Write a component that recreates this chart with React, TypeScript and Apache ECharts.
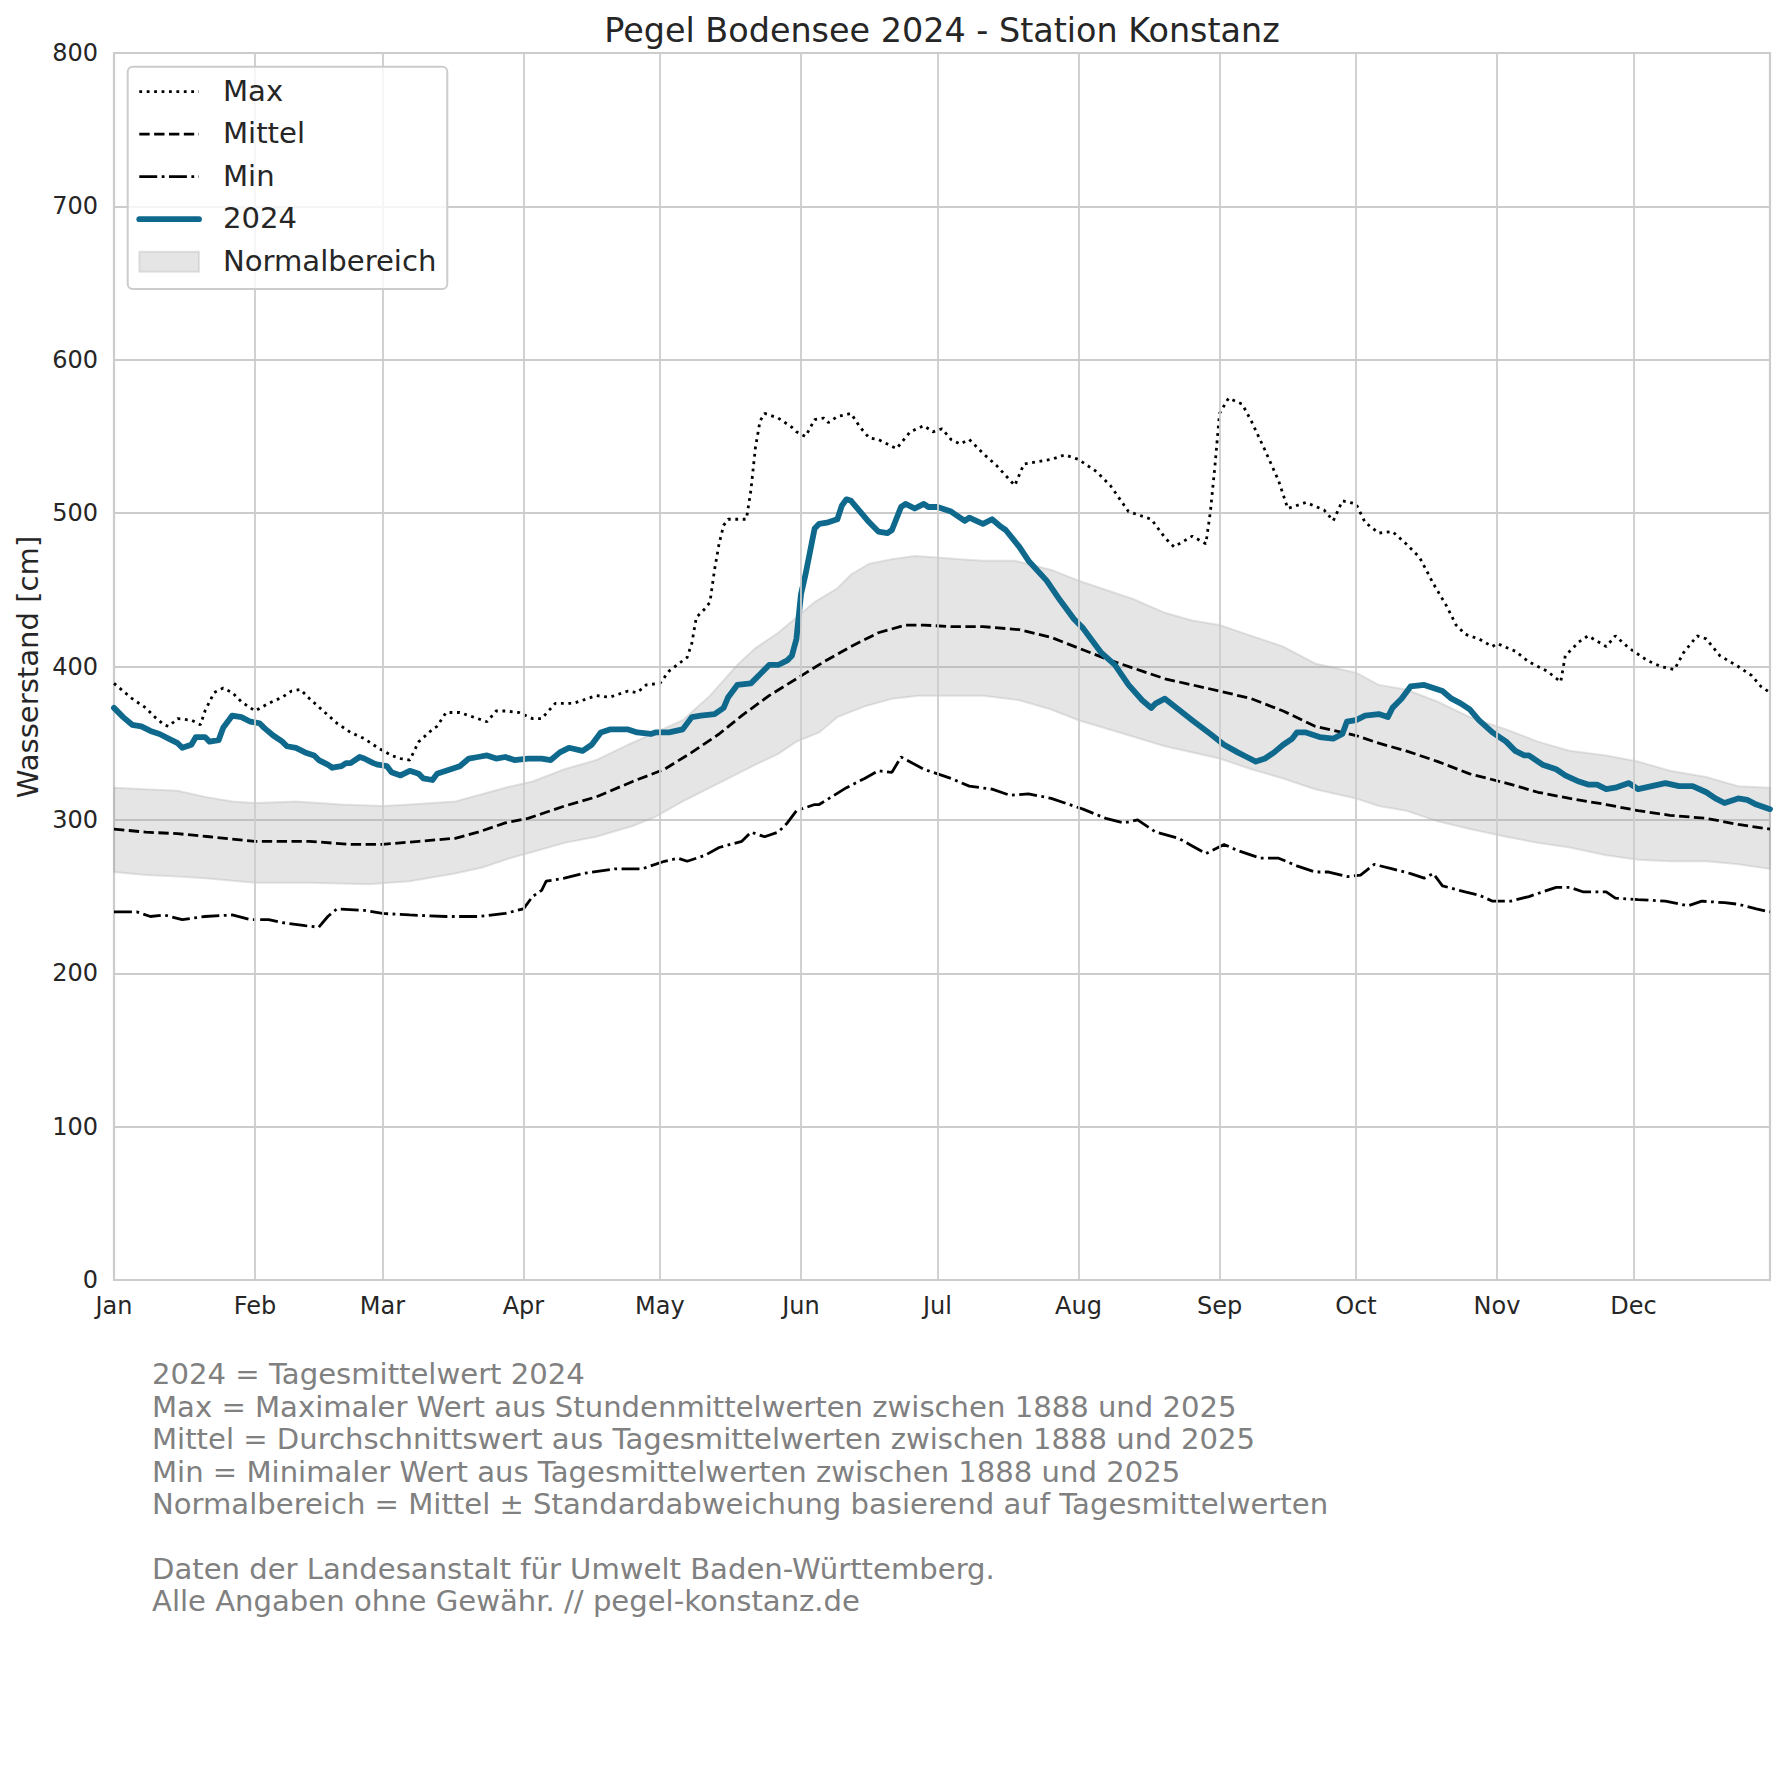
import React, { useEffect, useRef } from "react";
import * as echarts from "echarts";

const monthStarts = [0, 31, 59, 90, 120, 151, 181, 212, 243, 273, 304, 334];
const monthLabels = ["Jan", "Feb", "Mar", "Apr", "May", "Jun", "Jul", "Aug", "Sep", "Oct", "Nov", "Dec"];
const yTicks = [0, 100, 200, 300, 400, 500, 600, 700, 800];

const maxSeries: [number, number][] = [
  [0,389],[4,379],[7,373],[9,367],[11,362],[12,361],[14,366],[17,365],[19,362],[20,371],[22,383],[24,386],[26,383],[28,377],[31,371],[34,376],[37,380],[39,384],[41,385],[43,379],[46,371],[49,363],[52,357],[55,353],[58,347],[61,342],[63,340],[65,339],[67,351],[70,359],[71,361],[73,370],[76,370],[78,368],[82,364],[84,371],[86,371],[89,370],[92,366],[94,366],[97,376],[101,376],[106,381],[109,380],[113,384],[115,383],[117,388],[120,389],[122,397],[126,406],[127,415],[128,432],[130,438],[131,442],[132,463],[133,480],[134,492],[135,496],[139,496],[140,515],[141,543],[142,560],[143,565],[146,562],[149,556],[150,553],[152,550],[154,561],[156,562],[157,559],[159,563],[162,565],[164,556],[166,549],[168,548],[170,545],[172,542],[175,553],[178,557],[180,553],[182,555],[184,548],[186,545],[188,548],[191,539],[194,531],[198,518],[200,532],[206,535],[209,538],[212,535],[216,527],[219,518],[223,501],[228,496],[231,484],[233,478],[237,485],[240,480],[241,501],[242,531],[243,565],[245,575],[248,571],[250,560],[253,541],[256,521],[258,503],[262,507],[266,502],[268,495],[270,508],[273,506],[275,494],[278,487],[281,488],[284,480],[287,471],[290,454],[293,439],[295,427],[297,421],[300,418],[303,413],[304,415],[308,410],[311,403],[315,397],[318,390],[319,407],[322,416],[324,420],[328,413],[330,420],[333,412],[337,404],[340,400],[343,398],[345,409],[348,420],[350,418],[353,407],[357,400],[360,394],[362,387],[364,383]
];

const mittelSeries: [number, number][] = [
  [0,294],[7,292],[14,291],[21,289],[31,286],[43,286],[52,284],[59,284],[67,286],[75,288],[80,292],[86,298],[91,301],[94,304],[99,309],[106,315],[114,325],[121,333],[127,344],[133,356],[138,368],[144,381],[150,392],[156,403],[162,413],[168,422],[174,427],[178,427],[184,426],[191,426],[199,424],[206,419],[212,412],[219,404],[226,397],[231,392],[237,388],[243,384],[250,379],[257,371],[264,361],[273,355],[278,350],[284,345],[291,338],[298,330],[306,324],[313,318],[320,314],[328,310],[335,306],[342,303],[350,301],[357,297],[364,294]
];

const minSeries: [number, number][] = [
  [0,240],[5,240],[8,237],[11,238],[15,235],[20,237],[26,238],[30,235],[34,235],[37,233],[42,231],[45,230],[47,237],[49,242],[55,241],[59,239],[65,238],[73,237],[80,237],[86,239],[90,242],[92,250],[94,254],[95,260],[99,262],[103,265],[110,268],[116,268],[121,273],[124,275],[126,273],[130,277],[133,282],[138,286],[140,292],[143,289],[146,292],[148,298],[150,306],[154,310],[155,310],[161,321],[165,327],[168,332],[171,331],[173,341],[178,333],[184,327],[188,322],[193,320],[197,316],[201,317],[206,314],[213,307],[218,301],[222,298],[225,300],[229,292],[234,288],[237,283],[240,278],[244,284],[247,280],[252,275],[256,275],[260,270],[264,266],[267,266],[271,263],[274,264],[277,271],[281,268],[285,265],[288,262],[290,265],[292,257],[297,253],[300,251],[303,247],[307,247],[311,250],[314,253],[317,256],[320,256],[323,253],[328,253],[330,249],[335,248],[341,247],[346,244],[349,247],[354,246],[357,245],[361,242],[364,240]
];

const series2024: [number, number][] = [
  [0,373],[2,367],[4,362],[6,361],[8,358],[10,356],[12,353],[14,350],[15,347],[17,349],[18,354],[20,354],[21,351],[23,352],[24,360],[26,368],[28,367],[30,364],[32,363],[33,360],[35,355],[37,351],[38,348],[40,347],[42,344],[44,342],[45,339],[47,336],[48,334],[50,335],[51,337],[52,337],[54,341],[55,340],[57,337],[58,336],[60,335],[61,331],[63,329],[65,332],[67,330],[68,327],[70,326],[71,330],[73,332],[76,335],[78,340],[80,341],[82,342],[84,340],[86,341],[88,339],[91,340],[94,340],[96,339],[98,344],[100,347],[103,345],[105,349],[107,357],[109,359],[113,359],[115,357],[118,356],[119,357],[122,357],[125,359],[127,367],[129,368],[132,369],[134,373],[135,380],[137,388],[140,389],[142,395],[144,401],[146,401],[148,404],[149,407],[150,418],[151,447],[152,460],[153,475],[154,490],[155,493],[157,494],[159,496],[160,505],[161,509],[162,508],[164,501],[166,494],[168,488],[170,487],[171,489],[173,504],[174,506],[176,503],[178,506],[179,504],[181,504],[184,501],[187,495],[188,497],[191,493],[193,496],[195,491],[196,489],[199,478],[201,469],[205,456],[208,443],[211,431],[213,425],[217,409],[220,401],[223,388],[226,378],[228,373],[229,376],[231,379],[234,372],[237,365],[241,356],[244,349],[247,344],[249,341],[251,338],[253,340],[255,344],[257,349],[259,353],[260,357],[262,357],[265,354],[268,353],[270,356],[271,364],[273,365],[275,368],[278,369],[280,367],[281,373],[283,379],[285,387],[288,388],[290,386],[292,384],[294,379],[296,376],[298,372],[300,365],[303,357],[306,351],[308,345],[310,342],[311,342],[314,336],[317,333],[319,329],[322,325],[324,323],[326,323],[328,320],[330,321],[333,324],[335,320],[338,322],[341,324],[344,322],[347,322],[350,318],[352,314],[354,311],[357,314],[359,313],[361,310],[364,307]
];

const bandUpper: [number, number][] = [
  [0,321],[7,320],[14,319],[20,315],[26,312],[31,311],[40,312],[50,310],[59,309],[65,310],[75,312],[80,316],[86,321],[92,325],[99,333],[106,339],[113,349],[119,357],[125,365],[131,381],[137,401],[141,412],[146,422],[150,432],[154,442],[159,451],[162,460],[166,467],[171,470],[176,472],[181,471],[186,470],[191,469],[198,469],[206,463],[212,456],[217,451],[224,444],[231,435],[237,430],[243,427],[250,420],[257,413],[264,402],[273,396],[278,388],[284,385],[291,377],[298,367],[306,359],[313,351],[320,345],[328,342],[335,338],[342,332],[350,328],[357,322],[364,321]
];

const bandLower: [number, number][] = [
  [0,266],[7,264],[14,263],[20,262],[31,259],[43,259],[56,258],[65,260],[75,265],[81,269],[87,275],[92,279],[99,285],[106,289],[114,296],[119,302],[125,312],[131,321],[137,330],[141,336],[146,343],[150,351],[155,357],[159,367],[165,374],[171,379],[177,381],[186,381],[191,381],[199,378],[206,372],[212,365],[221,357],[231,348],[243,340],[250,333],[257,327],[264,320],[273,314],[278,309],[284,306],[291,299],[298,294],[306,289],[313,285],[320,282],[328,277],[335,274],[342,273],[350,273],[357,271],[364,268]
];

const footnoteLines = [
  "2024 = Tagesmittelwert 2024",
  "Max = Maximaler Wert aus Stundenmittelwerten zwischen 1888 und 2025",
  "Mittel = Durchschnittswert aus Tagesmittelwerten zwischen 1888 und 2025",
  "Min = Minimaler Wert aus Tagesmittelwerten zwischen 1888 und 2025",
  "Normalbereich = Mittel \u00b1 Standardabweichung basierend auf Tagesmittelwerten",
  "",
  "Daten der Landesanstalt f\u00fcr Umwelt Baden-W\u00fcrttemberg.",
  "Alle Angaben ohne Gew\u00e4hr. // pegel-konstanz.de",
];

const FONT = "'DejaVu Sans', Verdana, sans-serif";
const TEXT = "#262626";
const BLUE = "#0f698d";
const GRID = "#cccccc";
const BAND_FILL = "rgba(169,169,169,0.3)";
const BIG = 29.1;
const TICK = 24;

const LW = 2.8;
const dotted = [LW, 1.65 * LW];
const dashed = [3.7 * LW, 1.6 * LW];
const dashdot = [6.4 * LW, 1.6 * LW, LW, 1.6 * LW];

export default function App() {
  const ref = useRef<HTMLDivElement>(null);

  useEffect(() => {
    if (!ref.current) return;
    const chart = echarts.init(ref.current, undefined, { renderer: "svg" });

    const legendRows = [
      { name: "Max", kind: "line", dash: dotted, color: "#000", width: LW },
      { name: "Mittel", kind: "line", dash: dashed, color: "#000", width: LW },
      { name: "Min", kind: "line", dash: dashdot, color: "#000", width: LW },
      { name: "2024", kind: "line", dash: null, color: BLUE, width: 5.8 },
      { name: "Normalbereich", kind: "patch", dash: null, color: BAND_FILL, width: 0 },
    ];
    const rowY0 = 91.7;
    const rowStep = 42.5;
    const legendElems: any[] = [
      {
        type: "rect",
        z: 100,
        shape: { x: 127.7, y: 66.7, width: 319.6, height: 222.3, r: 5 },
        style: { fill: "rgba(255,255,255,0.8)", stroke: GRID, lineWidth: 2 },
        silent: true,
      },
    ];
    legendRows.forEach((r, i) => {
      const y = rowY0 + i * rowStep;
      if (r.kind === "line") {
        legendElems.push({
          type: "line",
          z: 101,
          shape: { x1: 139.3, y1: y, x2: 199, y2: y },
          style: {
            stroke: r.color,
            lineWidth: r.width,
            lineDash: r.dash || undefined,
            lineCap: r.dash ? "butt" : "round",
          },
          silent: true,
        });
      } else {
        legendElems.push({
          type: "rect",
          z: 101,
          shape: { x: 139.3, y: y - 10, width: 59.7, height: 20 },
          style: { fill: BAND_FILL, stroke: BAND_FILL, lineWidth: 2 },
          silent: true,
        });
      }
      legendElems.push({
        type: "text",
        z: 101,
        x: 223,
        y: y - 1,
        style: {
          text: r.name,
          fontFamily: FONT,
          fontSize: BIG,
          fill: TEXT,
          align: "left",
          verticalAlign: "middle",
        },
        silent: true,
      });
    });

    const footElems = footnoteLines
      .map((t, i) => ({ t, i }))
      .filter((o) => o.t.length > 0)
      .map((o) => ({
        type: "text",
        x: 152,
        y: 1374.3 + o.i * 32.45,
        style: {
          text: o.t,
          fontFamily: FONT,
          fontSize: BIG,
          fill: "#808080",
          align: "left",
          verticalAlign: "middle",
        },
        silent: true,
      }));

    const option: any = {
      animation: false,
      backgroundColor: "#ffffff",
      grid: {
        left: 114,
        right: 14,
        top: 53,
        bottom: 506,
        show: true,
        borderColor: GRID,
        borderWidth: 2.2,
        backgroundColor: "transparent",
      },
      xAxis: {
        type: "value",
        min: 0,
        max: 364,
        axisLine: { show: false },
        axisTick: { show: false, customValues: monthStarts },
        splitLine: { show: false },
        axisLabel: {
          customValues: monthStarts,
          formatter: (v: number) => {
            const idx = monthStarts.indexOf(Math.round(v));
            return idx >= 0 ? monthLabels[idx] : "";
          },
          fontFamily: FONT,
          fontSize: TICK,
          color: TEXT,
          margin: 14,
        },
      },
      yAxis: {
        type: "value",
        min: yTicks[0],
        max: yTicks[yTicks.length - 1],
        interval: 100,
        axisLine: { show: false },
        axisTick: { show: false },
        splitLine: { show: true, lineStyle: { color: GRID, width: 1.8 } },
        axisLabel: {
          fontFamily: FONT,
          fontSize: TICK,
          color: TEXT,
          margin: 16,
        },
      },
      graphic: [
        {
          type: "text",
          x: 942,
          y: 30,
          style: {
            text: "Pegel Bodensee 2024 - Station Konstanz",
            fontFamily: FONT,
            fontSize: 33.4,
            fill: TEXT,
            align: "center",
            verticalAlign: "middle",
          },
          silent: true,
        },
        {
          type: "text",
          x: 28,
          y: 667,
          rotation: Math.PI / 2,
          style: {
            text: "Wasserstand [cm]",
            fontFamily: FONT,
            fontSize: BIG,
            fill: TEXT,
            align: "center",
            verticalAlign: "middle",
          },
          silent: true,
        },
        ...legendElems,
        ...footElems,
      ],
      series: [
        {
          name: "monthGrid",
          type: "line",
          data: [],
          z: 1,
          silent: true,
          markLine: {
            silent: true,
            symbol: ["none", "none"],
            label: { show: false },
            lineStyle: { color: GRID, width: 1.8, type: "solid" },
            emphasis: { disabled: true },
            data: monthStarts.slice(1).map((m) => ({ xAxis: m })),
          },
        },
        {
          name: "Normalbereich",
          type: "custom",
          z: 2,
          silent: true,
          data: [[0, 0]],
          renderItem: (_params: any, api: any) => {
            const pts: number[][] = [];
            bandUpper.forEach((p) => pts.push(api.coord(p)));
            for (let i = bandLower.length - 1; i >= 0; i--) pts.push(api.coord(bandLower[i]));
            return {
              type: "polygon",
              shape: { points: pts },
              style: { fill: BAND_FILL, stroke: BAND_FILL, lineWidth: 2 },
            };
          },
        },
        {
          name: "Max",
          type: "line",
          z: 3,
          showSymbol: false,
          silent: true,
          data: maxSeries,
          lineStyle: { color: "#000", width: LW, type: dotted, cap: "butt" },
        },
        {
          name: "Mittel",
          type: "line",
          z: 3,
          showSymbol: false,
          silent: true,
          data: mittelSeries,
          lineStyle: { color: "#000", width: LW, type: dashed, cap: "butt" },
        },
        {
          name: "Min",
          type: "line",
          z: 3,
          showSymbol: false,
          silent: true,
          data: minSeries,
          lineStyle: { color: "#000", width: LW, type: dashdot, cap: "butt" },
        },
        {
          name: "2024",
          type: "line",
          z: 4,
          showSymbol: false,
          silent: true,
          data: series2024,
          lineStyle: { color: BLUE, width: 5.8, cap: "round", join: "round" },
        },
      ],
    };

    chart.setOption(option);
    return () => chart.dispose();
  }, []);

  return (
    <div
      ref={ref}
      style={{ position: "absolute", left: 0, top: 0, width: 1784, height: 1786, background: "#fff" }}
    />
  );
}
